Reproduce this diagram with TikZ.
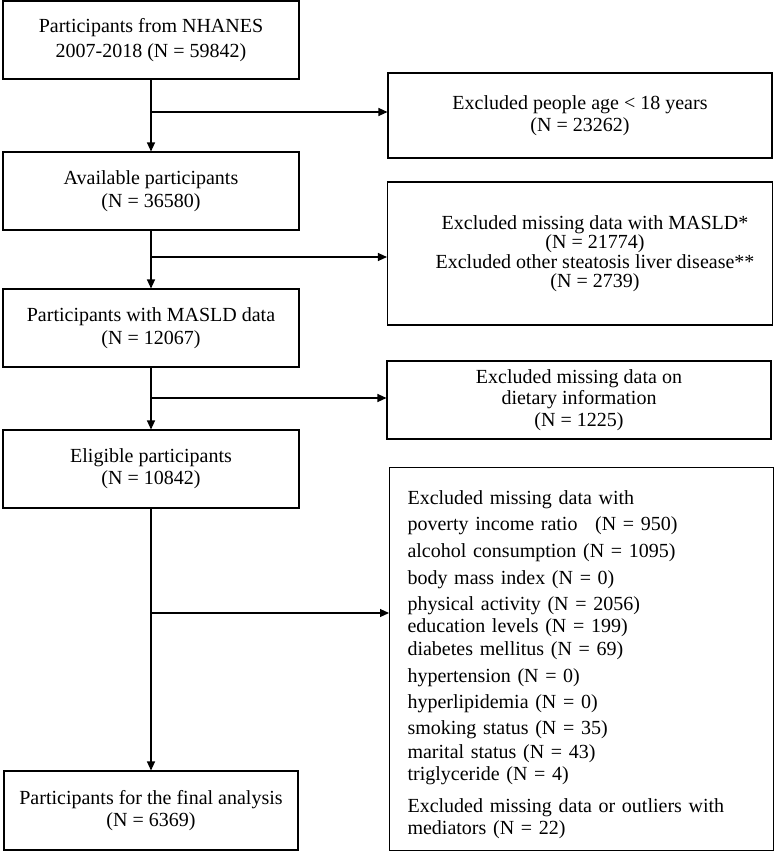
\documentclass[tikz,border=0pt]{standalone}
\usepackage{fontspec}
\setmainfont{Liberation Serif}
\usetikzlibrary{arrows.meta}
\begin{document}
\begin{tikzpicture}[x=1pt,y=-1pt,
  box/.style={draw, line width=1.1pt, inner sep=0pt, align=center, font=\fontsize{20}{22}\selectfont},
  arr/.style={line width=1.1pt, -{Triangle[length=9pt,width=8pt]}}]
\useasboundingbox (0,0) rectangle (774,852);
% left column
\node[box, minimum width=296pt, minimum height=78pt, font=\fontsize{20}{25}\selectfont] (b1) at (151,40) {Participants from NHANES\\2007-2018 (N = 59842)};
\node[box, minimum width=296pt, minimum height=78pt, font=\fontsize{20}{23}\selectfont] (b2) at (151,191) {Available participants\\(N = 36580)};
\node[box, minimum width=296pt, minimum height=78pt, font=\fontsize{20}{23}\selectfont] (b3) at (151,328) {Participants with MASLD data\\(N = 12067)};
\node[box, minimum width=296pt, minimum height=78pt] (b4) at (151,469) {Eligible participants\\(N = 10842)};
\node[box, minimum width=294pt, minimum height=79pt] (b5) at (151,810.5) {Participants for the final analysis\\(N = 6369)};
% right column
\node[box, minimum width=384pt, minimum height=85pt] (rb1) at (580,115.5) {Excluded people age < 18 years\\(N = 23262)};
\node[box, minimum width=385pt, minimum height=143pt, font=\fontsize{20}{19.5}\selectfont] (rb2) at (580,253.5) {\hspace*{30pt}Excluded missing data with MASLD*\\\hspace*{30pt}(N = 21774)\\\hspace*{30pt}Excluded other steatosis liver disease**\\\hspace*{30pt}(N = 2739)};
\node[box, minimum width=384pt, minimum height=78pt, font=\fontsize{20}{21.5}\selectfont] (rb3) at (579,400) {Excluded missing data on\\dietary information\\(N = 1225)};
\node[box, anchor=north west, minimum height=383pt, text width=348pt, inner xsep=18pt, align=left] (rb4) at (389,467) {\rule{0pt}{25pt}Excluded missing data with\\[4.6pt]
poverty income ratio\hspace{11pt} (N = 950)\\[4.7pt]
alcohol consumption (N = 1095)\\[4.7pt]
body mass index (N = 0)\\[4pt]
physical activity (N = 2056)\\
education levels (N = 199)\\[1.6pt]
diabetes mellitus (N = 69)\\[4.7pt]
hypertension (N = 0)\\[3.7pt]
hyperlipidemia (N = 0)\\[4.6pt]
smoking status (N = 35)\\[1.4pt]
marital status (N = 43)\\[0.6pt]
triglyceride (N = 4)\\[9.7pt]
Excluded missing data or outliers with\\[0.3pt]
mediators (N = 22)};
% junctions
\coordinate (j1) at (151,112);
\coordinate (j2) at (151,257);
\coordinate (j3) at (151,398);
\coordinate (j4) at (151,613);
% connectors
\draw[arr] (b1) -- (b2);
\draw[arr] (b2) -- (b3);
\draw[arr] (b3) -- (b4);
\draw[arr] (b4) -- (b5);
\draw[arr] (j1) -- (j1 -| rb1.west);
\draw[arr] (j2) -- (j2 -| rb2.west);
\draw[arr] (j3) -- (j3 -| rb3.west);
\draw[arr] (j4) -- (j4 -| rb4.west);
\end{tikzpicture}
\end{document}
